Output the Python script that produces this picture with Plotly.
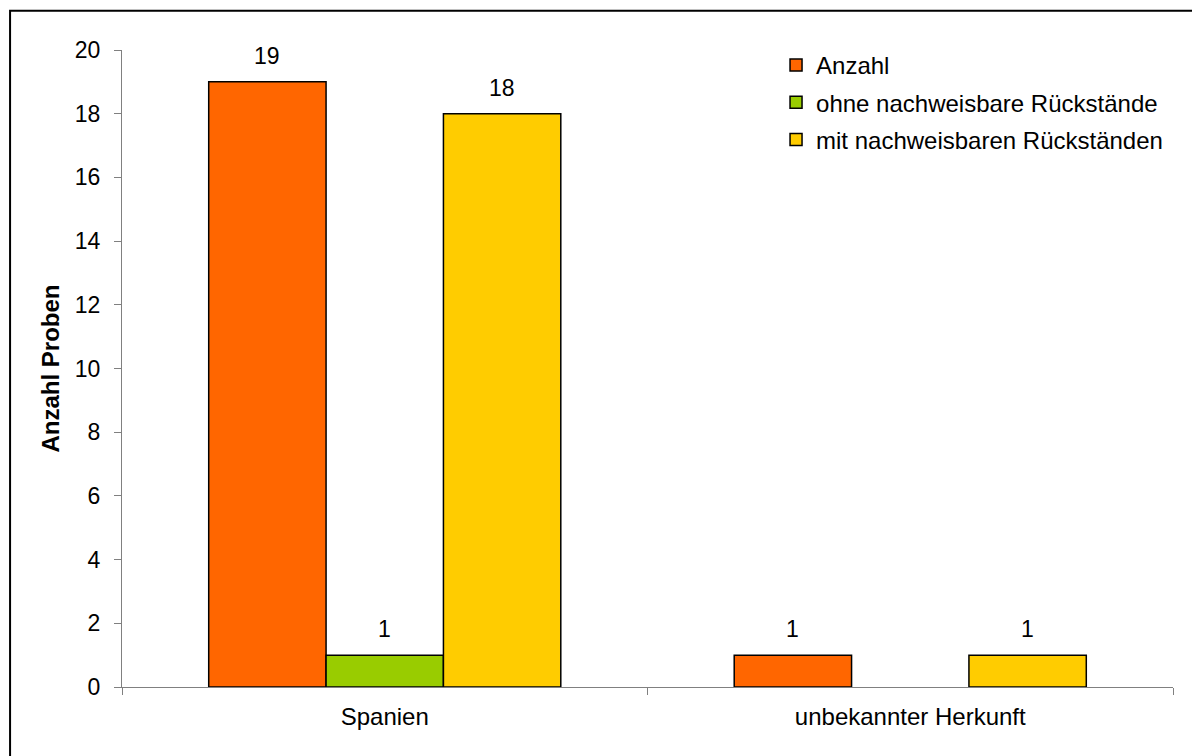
import plotly.graph_objects as go

# Sample counts by origin
categories = ["Spanien", "unbekannter Herkunft"]
series_names = ["Anzahl", "ohne nachweisbare Rückstände", "mit nachweisbaren Rückständen"]
anzahl = [19, 1]
ohne_rueckstaende = [1, None]
mit_rueckstaende = [18, 1]
y_ticks = [0, 2, 4, 6, 8, 10, 12, 14, 16, 18, 20]

colors = ["#FF6600", "#99CC00", "#FFCC00"]
series_values = [anzahl, ohne_rueckstaende, mit_rueckstaende]

FONT = "Liberation Sans, Arial, Helvetica, sans-serif"
BARGAP = 0.33

fig = go.Figure()
for name, vals, col in zip(series_names, series_values, colors):
    fig.add_trace(go.Bar(
        name=name, x=categories, y=vals,
        marker=dict(color=col, line=dict(color="black", width=1.5)),
        legendgroup=name,
    ))

# value labels above each bar, positioned from the grouped-bar geometry
n = len(series_values)
bar_w = (1 - BARGAP) / n
annotations = []
for j, vals in enumerate(series_values):
    for i, v in enumerate(vals):
        if v is None:
            continue
        annotations.append(dict(
            x=i + (j - (n - 1) / 2) * bar_w, y=v, xref="x", yref="y",
            text=str(v), showarrow=False, yanchor="bottom", yshift=11,
            font=dict(family=FONT, size=23, color="black"),
        ))

fig.update_layout(
    width=1192, height=756,
    margin=dict(l=122, r=19, t=50, b=69),
    paper_bgcolor="white", plot_bgcolor="white",
    barmode="group", bargap=BARGAP, bargroupgap=0,
    font=dict(family=FONT, size=23, color="black"),
    showlegend=True,
    legend=dict(
        x=0.6223, y=1.011, xanchor="left", yanchor="top",
        font=dict(family=FONT, size=24, color="black"),
        traceorder="grouped", tracegroupgap=3,
        bgcolor="rgba(0,0,0,0)",
    ),
    annotations=annotations,
    shapes=[dict(
        type="rect", xref="paper", yref="paper",
        x0=-0.1065, x1=1.2, y0=-0.3, y1=1.0615,
        line=dict(color="black", width=2), layer="above",
    )],
)

fig.update_xaxes(
    type="category", showline=True, linecolor="#808080", linewidth=1,
    ticks="outside", tickson="boundaries", ticklen=7, tickcolor="#808080",
    showgrid=False, tickfont=dict(family=FONT, size=24, color="black"),
    ticklabelstandoff=8,
    range=[-0.5, 1.5],
)
fig.update_yaxes(
    range=[0, 20], tickvals=y_ticks, showline=True, linecolor="#808080",
    linewidth=1, ticks="outside", ticklen=7, tickcolor="#808080",
    showgrid=False, zeroline=False, ticklabelstandoff=9,
    tickfont=dict(family=FONT, size=23, color="black"),
    title=dict(text="<b>Anzahl Proben</b>", standoff=8,
               font=dict(family=FONT, size=24, color="black")),
)

fig.write_html("out.html")
